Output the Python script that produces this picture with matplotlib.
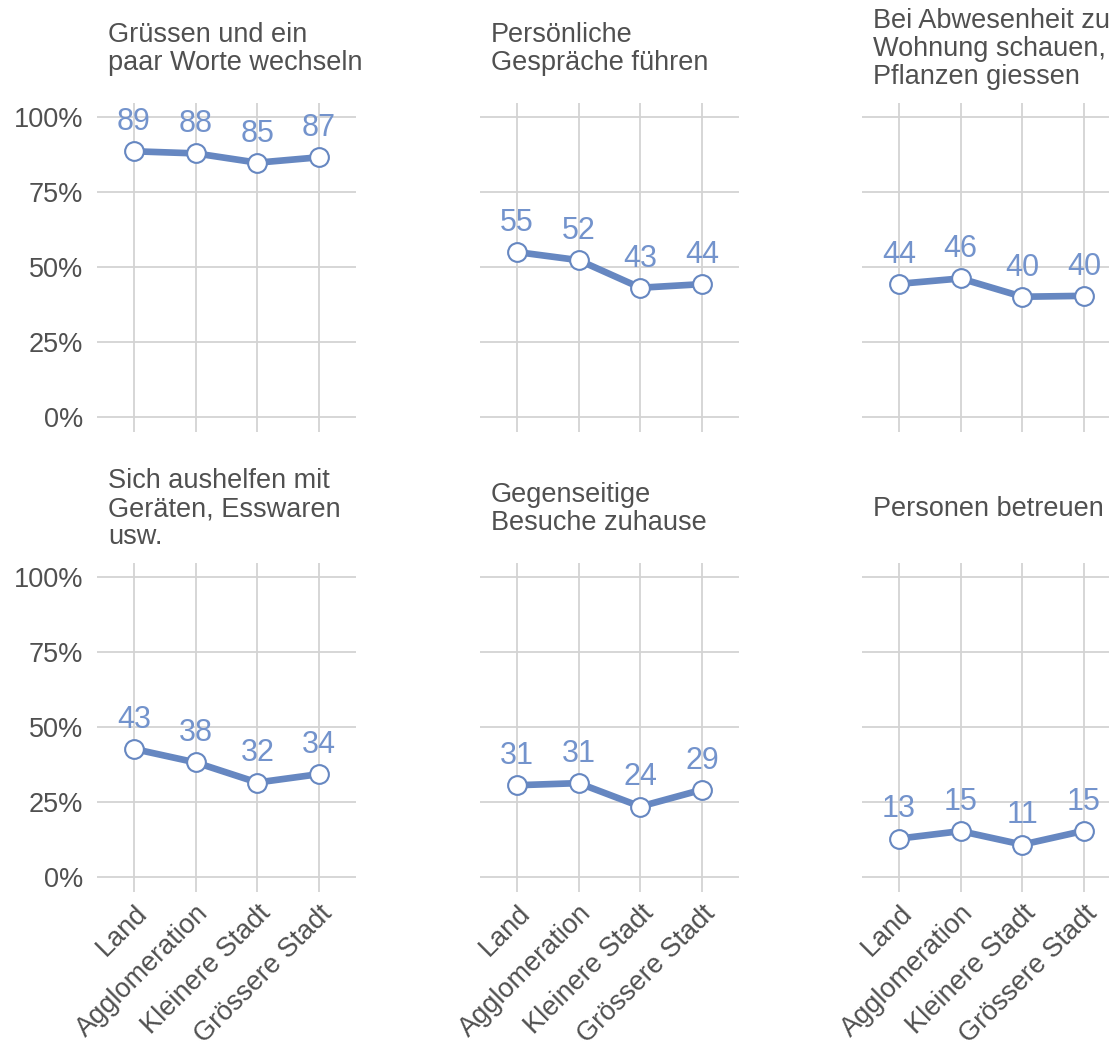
import matplotlib.pyplot as plt

plt.rcParams['font.family'] = ['Liberation Sans', 'DejaVu Sans']

categories = ["Land", "Agglomeration", "Kleinere Stadt", "Grössere Stadt"]
titles = [
    "Grüssen und ein\npaar Worte wechseln",
    "Persönliche\nGespräche führen",
    "Bei Abwesenheit zur\nWohnung schauen,\nPflanzen giessen",
    "Sich aushelfen mit\nGeräten, Esswaren\nusw.",
    "Gegenseitige\nBesuche zuhause",
    "Personen betreuen",
]
values = [
    [88.6, 87.9, 84.8, 86.6],
    [55.0, 52.3, 43.1, 44.3],
    [44.4, 46.2, 40.1, 40.4],
    [42.7, 38.2, 31.5, 34.3],
    [30.6, 31.3, 23.5, 29.1],
    [12.8, 15.3, 10.8, 15.4],
]
yticks = [0, 25, 50, 75, 100]
ytick_labels = ["0%", "25%", "50%", "75%", "100%"]

LINE = "#6687c1"
LABEL = "#7393cc"
GRID = "#d3d3d3"
TEXT = "#505050"

W, H = 1109, 1046
fig = plt.figure(figsize=(W / 100, H / 100), dpi=100)

lefts = [97, 480, 862]
tops = [103, 563]
aw, ah = 259, 329

for i, (title, vals) in enumerate(zip(titles, values)):
    r, c = divmod(i, 3)
    ax = fig.add_axes([lefts[c] / W, (H - tops[r] - ah) / H, aw / W, ah / H])
    ax.set_xlim(-0.6, 3.6)
    ax.set_ylim(-5, 104.7)
    for s in ax.spines.values():
        s.set_visible(False)
    ax.set_yticks(yticks)
    ax.set_xticks(range(len(categories)))
    ax.grid(True, color=GRID, linewidth=1.3)
    ax.set_axisbelow(True)
    ax.tick_params(length=0, labelsize=19.5, labelcolor=TEXT, pad=10)
    if c == 0:
        ax.set_yticklabels(ytick_labels)
    else:
        ax.set_yticklabels([])
    if r == 1:
        ax.set_xticklabels(categories, rotation=45, ha='right', rotation_mode='anchor')
        ax.tick_params(axis='x', pad=6)
    else:
        ax.set_xticklabels([])

    x = list(range(len(vals)))
    ax.plot(x, vals, color=LINE, linewidth=4.8, solid_capstyle='round', zorder=3)
    ax.plot(x, vals, 'o', markersize=13.5, markerfacecolor='white',
            markeredgecolor=LINE, markeredgewidth=1.5, zorder=4)
    for xi, v in zip(x, vals):
        ax.annotate(f"{round(v)}", (xi, v), xytext=(0, 21), textcoords='offset points',
                    ha='center', va='center', fontsize=22, color=LABEL, zorder=5)

    ax.text((lefts[c] + 11) / W, (H - (tops[r] - 54)) / H, title,
            transform=fig.transFigure, ha='left', va='center',
            fontsize=19.5, color=TEXT, linespacing=1.08)

fig.savefig("out.png", dpi=100)
